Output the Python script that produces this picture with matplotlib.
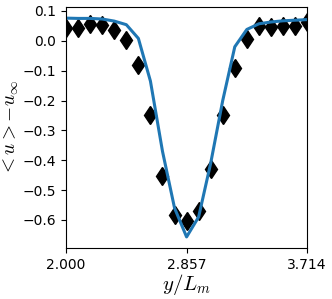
import matplotlib
matplotlib.use("Agg")
import matplotlib.pyplot as plt
import numpy as np

plt.rcParams["mathtext.fontset"] = "cm"

# x positions: 21 samples between 2.000 and 3.714
x_start = 2.0
x_end = 26.0 / 7.0
n_pts = 21
x = np.linspace(x_start, x_end, n_pts)

# marker data (black diamonds)
u_markers = [0.043, 0.043, 0.057, 0.054, 0.037, 0.003, -0.080, -0.248, -0.453,
             -0.584, -0.604, -0.570, -0.430, -0.248, -0.090, 0.007, 0.048,
             0.045, 0.050, 0.050, 0.062]

# line data (blue)
u_line = [0.076, 0.075, 0.075, 0.073, 0.066, 0.054, 0.008, -0.135, -0.370,
          -0.560, -0.657, -0.590, -0.410, -0.200, -0.020, 0.038, 0.057,
          0.063, 0.067, 0.069, 0.071]

xticks = [2.0, 20.0 / 7.0, 26.0 / 7.0]
xtick_labels = ["2.000", "2.857", "3.714"]

fig = plt.figure(figsize=(3.32, 2.99), dpi=100)
ax = fig.add_axes([0.199, 0.171, 0.726, 0.805])
ax.plot(x, u_markers, linestyle="none", marker="d", color="black", markersize=9.5)
ax.plot(x, u_line, color="#1f77b4", linewidth=2.2)
ax.set_xlim(x_start, x_end)
ax.set_xticks(xticks)
ax.set_xticklabels(xtick_labels)
ax.set_yticks([0.1, 0.0, -0.1, -0.2, -0.3, -0.4, -0.5, -0.6])
ax.tick_params(labelsize=10)
ax.set_xlabel(r"$y/L_m$", fontsize=15, labelpad=0)
ax.set_ylabel(r"$<u>-u_\infty$", fontsize=14, labelpad=1)
fig.savefig("out.png", dpi=100)
